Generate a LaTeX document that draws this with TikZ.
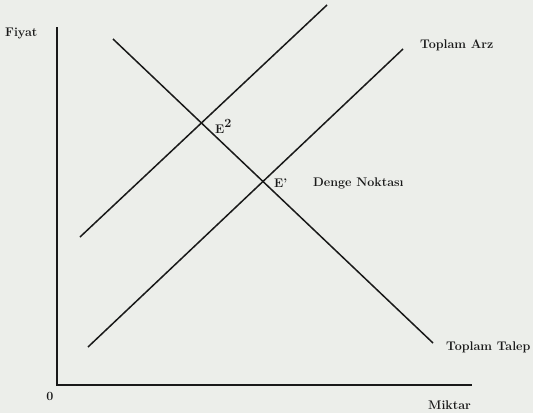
\documentclass[tikz,border=0pt]{standalone}
\usepackage{tikz}
\usetikzlibrary{positioning}
\definecolor{paper}{RGB}{236,238,234}
\definecolor{ink}{RGB}{25,25,25}
\begin{document}
\begin{tikzpicture}[
  x=1pt,y=-1pt,
  curve/.style={draw=ink,line width=1.5pt},
  axis/.style={draw=ink,line width=2pt},
  lbl/.style={font=\bfseries\fontsize{12.5}{14}\selectfont,text=ink,inner sep=1pt},
  every node/.style={lbl}
]
  \fill[paper] (0,0) rectangle (533,413);
  \useasboundingbox (0,0) rectangle (533,413);

  % axes
  \coordinate (origin) at (57,385);
  \coordinate (ytop) at (57,27);
  \coordinate (xend) at (472,385);
  \draw[axis] (ytop) -- (origin) -- (xend);
  \node[anchor=west] (fiyat) at (4,33) {Fiyat};
  \node (zero) at (50,396) {0};
  \node[anchor=west] (miktar) at (427,405) {Miktar};

  % demand and supply curves
  \coordinate (d1) at (113,39);
  \coordinate (d2) at (433,343);
  \coordinate (s1a) at (80,237);
  \coordinate (s1b) at (327,5);
  \coordinate (s2a) at (88,347);
  \coordinate (s2b) at (403,49);
  \draw[curve] (d1) -- (d2);
  \draw[curve] (s1a) -- (s1b);
  \draw[curve] (s2a) -- (s2b);

  \node[anchor=west] (talep) at (445,347) {Toplam Talep};
  \node[anchor=west] (arz) at (419,45) {Toplam Arz};

  % equilibrium points
  \node[anchor=west] (e2) at (214,126) {E\raisebox{1.1ex}{2}};
  \node[anchor=west] (e1) at (273,183) {E'};
  \node[anchor=west] (denge) at (312,183) {Denge Noktas\i};
\end{tikzpicture}
\end{document}
